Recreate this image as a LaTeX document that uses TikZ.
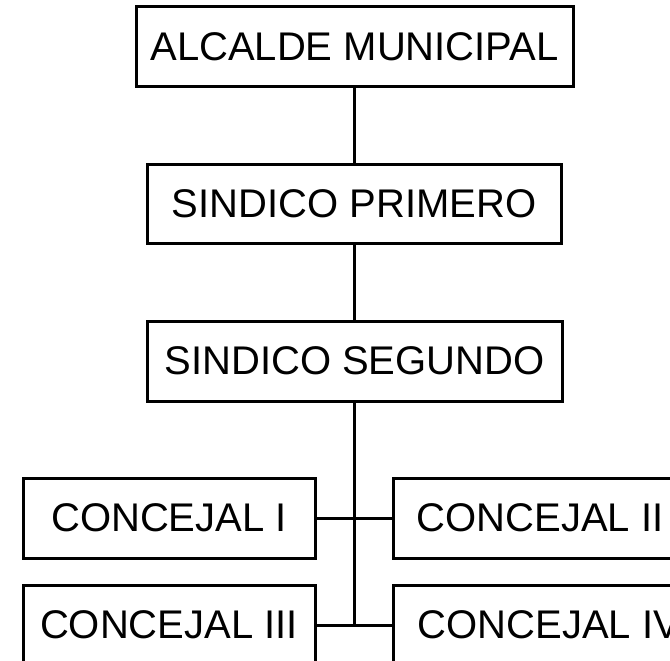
\documentclass[tikz,border=0pt]{standalone}
\usepackage{fontspec}
\setmainfont{Liberation Sans}
\begin{document}
\begin{tikzpicture}[x=1pt,y=-1pt,
  box/.style={draw=black, line width=3pt, fill=white, rectangle, inner sep=0pt,
    font=\fontsize{40}{46}\selectfont},
  conn/.style={draw=black, line width=3pt}]
\useasboundingbox (0,0) rectangle (670,661);
\clip (0,0) rectangle (670,661);
\node[box, minimum width=437pt, minimum height=80pt] (alc) at (354.5,47) {ALCALDE MUNICIPAL};
\node[box, minimum width=414pt, minimum height=79pt] (s1) at (354,203.5) {SINDICO PRIMERO};
\node[box, minimum width=415pt, minimum height=80pt] (s2) at (354.5,361) {SINDICO SEGUNDO};
\node[box, minimum width=292pt, minimum height=80pt] (c1) at (169,518) {CONCEJAL I};
\node[box, minimum width=294pt, minimum height=80pt] (c2) at (540,518) {CONCEJAL II};
\node[box, minimum width=292pt, minimum height=80pt] (c3) at (169,625) {CONCEJAL III};
\node[box, minimum width=312pt, minimum height=80pt] (c4) at (549,625) {CONCEJAL IV};
\coordinate (top) at (354,87);
\coordinate (j) at (354,625);
\draw[conn] (top) -- (top |- s1.north);
\draw[conn] (top |- s1.south) -- (top |- s2.north);
\draw[conn] (top |- s2.south) -- (j);
\draw[conn] (c1.east) -- (c2.west);
\draw[conn] (c3.east) -- (c4.west);
\end{tikzpicture}
\end{document}
